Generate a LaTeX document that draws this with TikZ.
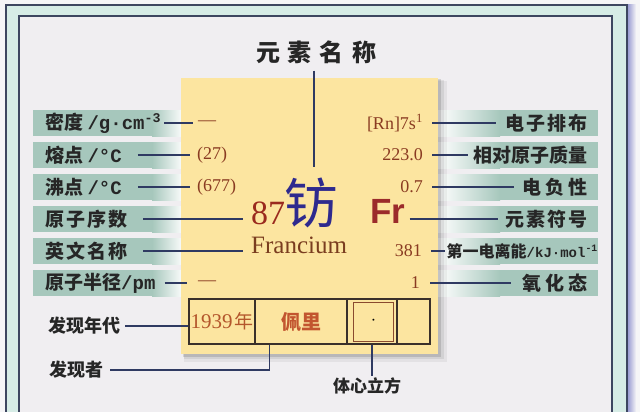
\documentclass[tikz,border=0pt]{standalone}
\usepackage{fontspec}
\setmainfont{Liberation Serif}
\newfontfamily\cjk{Noto Sans CJK SC}
\newfontfamily\monof{Liberation Mono}
\newfontfamily\sansf{Liberation Sans}
\usetikzlibrary{calc}
\definecolor{outbg}{HTML}{F5F5F7}
\definecolor{bg}{HTML}{F0EEF1}
\definecolor{band}{HTML}{D6ECE6}
\definecolor{frame}{HTML}{3D4660}
\definecolor{bar}{HTML}{A6C7BC}
\definecolor{card}{HTML}{FCE5A0}
\definecolor{navy}{HTML}{2F3A62}
\definecolor{val}{HTML}{8A3B22}
\definecolor{redd}{HTML}{9A2A1E}
\definecolor{bluep}{HTML}{2E2A8E}
\definecolor{brownf}{HTML}{7A3D1F}
\definecolor{orng}{HTML}{B4572C}
\definecolor{peili}{HTML}{C2552F}
\definecolor{frred}{HTML}{9B2B2B}
\definecolor{ink}{HTML}{262626}
\definecolor{tline}{HTML}{3A302A}
\definecolor{boxb}{HTML}{8A4A2E}
\newcommand\gapA{\hspace{2pt}}
\newcommand\gapB{\hspace{4pt}}
\newcommand\mtx[1]{{\monof\bfseries #1}}
\begin{document}
\begin{tikzpicture}[x=1pt,y=-1pt,
  lab/.style={font=\cjk\bfseries\fontsize{19}{20}\selectfont, text=ink, inner sep=0pt, anchor=west},
  rlab/.style={lab, anchor=east},
  valL/.style={font=\fontsize{18}{20}\selectfont, text=val, inner sep=0pt, anchor=west},
  valR/.style={valL, anchor=east},
  conn/.style={draw=navy, line width=1.3pt},
  tcell/.style={draw=tline, line width=1.2pt, inner sep=0pt, minimum height=45pt},
  blab/.style={font=\cjk\bfseries\fontsize{18}{20}\selectfont, text=ink, inner sep=0pt},
]
\useasboundingbox (0,0) rectangle (640,412);
% background and frame
\fill[outbg] (0,0) rectangle (640,412);
\shade[left color=frame!60!blue!50, right color=outbg] (627,5) rectangle (636,412);
\fill[band] (6,5) rectangle (627,420);
\draw[frame, line width=1.5pt] (6,420) -- (6,5) -- (627,5) -- (627,420);
\fill[bg] (19,16) rectangle (612,420);
\draw[frame, line width=1.5pt] (19,420) -- (19,16) -- (612,16) -- (612,420);
% label bars
\foreach \y in {123,155,187,219,251,283}{
  \fill[bar] (33,\y-13) rectangle (152,\y+13);
  \shade[left color=bar, right color=white] (152,\y-13) rectangle (184,\y+13);
  \shade[left color=white, right color=bar] (438,\y-13) rectangle (500,\y+13);
  \fill[bar] (500,\y-13) rectangle (598,\y+13);
}
% card with shadow
\fill[black,opacity=.05] (184,81) rectangle (447,362);
\fill[black,opacity=.07] (184,80) rectangle (444,359);
\fill[black,opacity=.12] (183,79) rectangle (441,357);
\fill[card] (181,78) rectangle (438,354);
% title
\node[font=\cjk\bfseries\fontsize{24}{24}\selectfont, text=ink, inner sep=0pt] (title) at (316,52)
  {元\hspace{8pt}素\hspace{8pt}名\hspace{8pt}称};
\coordinate (lt) at (314,167);
\draw[conn, line width=1.1pt, shorten <=7pt] (title.south -| lt) -- (lt);
% central element
\node[font=\cjk\fontsize{54}{54}\selectfont, text=bluep, inner sep=0pt] (fang) at (311,203) {钫};
\node[font=\fontsize{34}{34}\selectfont, text=redd, inner sep=0pt, anchor=west] (z) at (251,213) {87};
\node[font=\fontsize{25}{25}\selectfont, text=brownf, inner sep=0pt, anchor=west] (en) at (251,245) {Francium};
\node[font=\sansf\bfseries\fontsize{35}{35}\selectfont, text=frred, inner sep=0pt] (fr) at (388,211) {Fr};
% left labels and values
\node[lab] (l1) at (45,123) {密度 \mtx{/g·cm\textsuperscript{-3}}};
\node[lab] (l2) at (45,155) {熔点 \mtx{/°C}};
\node[lab] (l3) at (45,187) {沸点 \mtx{/°C}};
\node[lab] (l4) at (45,219) {原\gapA 子\gapA 序\gapA 数};
\node[lab] (l5) at (45,251) {英\gapA 文\gapA 名\gapA 称};
\node[lab] (l6) at (45,283) {原子半径\mtx{/pm}};
\node[valL] (a1) at (198,123) {—};
\node[valL] (a2) at (197,155) {(27)};
\node[valL] (a3) at (197,187) {(677)};
\node[valL] (a6) at (198,283) {—};
\draw[conn, shorten <=3pt, shorten >=5pt] (l1.east) -- (a1.west);
\draw[conn, shorten <=16pt, shorten >=7pt] (l2.east) -- (a2.west);
\draw[conn, shorten <=16pt, shorten >=7pt] (l3.east) -- (a3.west);
\draw[conn, shorten <=16pt, shorten >=8pt] (l4.east) -- (z.west |- l4.east);
\draw[conn, shorten <=16pt, shorten >=8pt] (l5.east) -- (en.west |- l5.east);
\draw[conn, shorten <=9pt, shorten >=11pt] (l6.east) -- (a6.west);
% right labels and values
\node[rlab] (r1) at (588,123) {电\gapA 子\gapA 排\gapA 布};
\node[rlab] (r2) at (588,155) {相对原子质量};
\node[rlab] (r3) at (588,187) {电\gapB 负\gapB 性};
\node[rlab] (r4) at (588,219) {元\gapA 素\gapA 符\gapA 号};
\node[rlab, font=\cjk\bfseries\fontsize{16}{18}\selectfont] (r5) at (598,251)
  {第一电离能{\fontsize{14}{16}\selectfont\mtx{/kJ·mol\textsuperscript{-1}}}};
\node[rlab] (r6) at (588,283) {氧\gapB 化\gapB 态};
\node[valR] (v1) at (423,123) {[Rn]7s\textsuperscript{1}};
\node[valR] (v2) at (423,155) {223.0};
\node[valR] (v3) at (423,187) {0.7};
\node[valR] (v5) at (422,251) {381};
\node[valR] (v6) at (420,283) {1};
\draw[conn, shorten <=9pt, shorten >=10pt] (v1.east) -- (r1.west);
\draw[conn, shorten <=9pt, shorten >=6pt] (v2.east) -- (r2.west);
\draw[conn, shorten <=9pt, shorten >=9pt] (v3.east) -- (r3.west);
\draw[conn, shorten <=4pt, shorten >=8pt] (fr.east |- r4.west) -- (r4.west);
\draw[conn, shorten <=9pt, shorten >=2pt] (v5.east) -- (r5.west);
\draw[conn, shorten <=10pt, shorten >=12pt] (v6.east) -- (r6.west);
% bottom table
\node[tcell, minimum width=66pt, font=\fontsize{21}{21}\selectfont, text=orng] (c1) at (222,321.5)
  {1939\hspace{2pt}{\cjk\fontsize{19}{19}\selectfont 年}};
\node[tcell, minimum width=92pt, font=\cjk\bfseries\fontsize{20}{20}\selectfont, text=peili] (c2) at (301,321.5)
  {佩里\hspace{10pt}};
\node[tcell, minimum width=50pt] (c3) at (372,321.5) {};
\node[tcell, minimum width=33pt] (c4) at (413.5,321.5) {};
\node[draw=boxb, line width=1.6pt, minimum width=40pt, minimum height=39pt, inner sep=0pt,
  font=\fontsize{16}{16}\selectfont] (c3b) at (373.5,322) {·};
% bottom labels
\node[blab, anchor=west] (fxnd) at (48,326) {发现年代};
\node[blab, anchor=west] (fxz) at (49,370) {发现者};
\node[blab, font=\cjk\bfseries\fontsize{17}{18}\selectfont] (txlf) at (367,386) {体心立方};
\draw[conn, line width=1.1pt, shorten <=5pt] (fxnd.east) -- (fxnd.east -| c1.west);
\draw[conn, line width=1.1pt, shorten <=7pt] (fxz.east) -| ($(c2.south west)+(15,0)$);
\draw[conn, line width=1.1pt, shorten >=2pt] (c3.south) -- (c3.south |- txlf.north);
\end{tikzpicture}
\end{document}
